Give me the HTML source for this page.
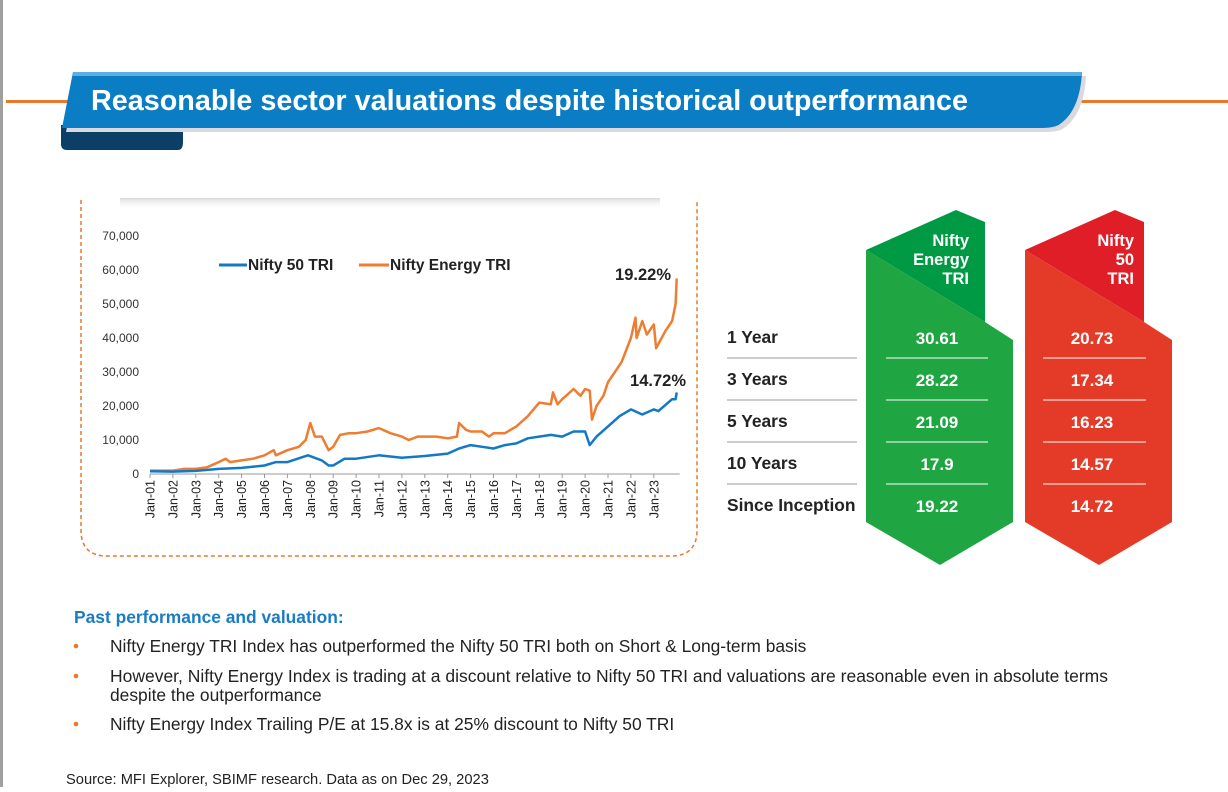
<!DOCTYPE html>
<html><head><meta charset="utf-8"><style>
html,body{margin:0;padding:0;background:#fff;}
body{width:1228px;height:787px;overflow:hidden;font-family:"Liberation Sans",sans-serif;}
svg text{font-family:"Liberation Sans",sans-serif;}
</style></head><body>
<svg id="page" width="1228" height="787" viewBox="0 0 1228 787" xmlns="http://www.w3.org/2000/svg">
<defs>
<linearGradient id="topShadow" x1="0" y1="0" x2="0" y2="1"><stop offset="0" stop-color="#ccc" stop-opacity="0.7"/><stop offset="1" stop-color="#fff" stop-opacity="0"/></linearGradient>
</defs>
<rect x="0" y="0" width="3" height="787" fill="#a0a0a0"/>
<rect x="6" y="100" width="1222" height="3" fill="#e8782b"/>
<g>
<path d="M61,125 L61,144 Q61,150 67,150 L178,150 Q183,150 183,142 L183,125 Z" fill="#0b3f66"/>
<path d="M73,72 L1082,72 Q1080,110 1060,124 Q1055,128 1040,128 L62,128 Z" fill="#d9d9df" transform="translate(4,4)"/>
<path d="M73,72 L1082,72 Q1080,110 1060,124 Q1055,128 1040,128 L62,128 Z" fill="#0a7dc4"/>
<path d="M73,72 L1082,72 L1081,76 L72,76 Z" fill="#5aaee0"/>
<text x="91" y="110" font-size="28.5" font-weight="bold" fill="#fff" textLength="877" lengthAdjust="spacingAndGlyphs">Reasonable sector valuations despite historical outperformance</text>
</g>
<g>
<rect x="120" y="198" width="540" height="12" fill="url(#topShadow)"/>
<path d="M81,200 L81,530 Q81,556 107,556 L671,556 Q697,556 697,530 L697,200" fill="none" stroke="#e8782b" stroke-width="1.5" stroke-dasharray="4,3"/>
</g>
<g id="chart"></g>
<g>
<path d="M866,250 L956,210 L985,222 L985,322 Z" fill="#009a44"/>
<path d="M866,250 L985,322 L1013,340 L1013,522 L940,565 L866,522 Z" fill="#1fa541"/>
<path d="M1025,250 L1115,210 L1144,222 L1144,322 Z" fill="#e01e28"/>
<path d="M1025,250 L1144,322 L1172,340 L1172,522 L1099,565 L1025,522 Z" fill="#e33b28"/>
<g font-size="16.5" font-weight="bold" fill="#fff" text-anchor="end">
<text x="969" y="246"><tspan x="969">Nifty</tspan><tspan x="969" dy="19">Energy</tspan><tspan x="969" dy="19">TRI</tspan></text>
<text x="1134" y="246"><tspan x="1134">Nifty</tspan><tspan x="1134" dy="19">50</tspan><tspan x="1134" dy="19">TRI</tspan></text>
</g>
<g id="rows"></g>
</g>
<text x="74" y="623" font-size="17.4" font-weight="bold" fill="#1a7cc4">Past performance and valuation:</text>
<g font-size="17.4" fill="#222">
<circle cx="76" cy="646" r="2.3" fill="#e8782b"/><text x="110" y="652">Nifty Energy TRI Index has outperformed the Nifty 50 TRI both on Short &amp; Long-term basis</text>
<circle cx="76" cy="676" r="2.3" fill="#e8782b"/><text x="110" y="682" textLength="998" lengthAdjust="spacingAndGlyphs">However, Nifty Energy Index is trading at a discount relative to Nifty 50 TRI and valuations are reasonable even in absolute terms</text>
<text x="110" y="701">despite the outperformance</text>
<circle cx="76" cy="724" r="2.3" fill="#e8782b"/><text x="110" y="730">Nifty Energy Index Trailing P/E at 15.8x is at 25% discount to Nifty 50 TRI</text>
</g>
<text x="66" y="784" font-size="14.7" fill="#222">Source: MFI Explorer, SBIMF research. Data as on Dec 29, 2023</text>
</svg>
<script>
const yTicks=[0,10000,20000,30000,40000,50000,60000,70000];
const xLabels=["Jan-01","Jan-02","Jan-03","Jan-04","Jan-05","Jan-06","Jan-07","Jan-08","Jan-09","Jan-10","Jan-11","Jan-12","Jan-13","Jan-14","Jan-15","Jan-16","Jan-17","Jan-18","Jan-19","Jan-20","Jan-21","Jan-22","Jan-23"];
const energyT=[0,0.5,1,1.5,2,2.5,3,3.3,3.5,4,4.5,5,5.4,5.5,6,6.5,6.8,7,7.2,7.5,7.8,8,8.3,8.7,9,9.5,10,10.5,11,11.3,11.7,12,12.5,13,13.4,13.5,13.8,14,14.5,14.8,15,15.5,16,16.5,17,17.5,17.6,17.8,18,18.5,18.8,19,19.2,19.3,19.5,19.8,20,20.3,20.6,21,21.2,21.25,21.5,21.7,22,22.1,22.5,22.8,22.95,23];
const energyV=[1000,1000,1000,1500,1500,2000,3500,4500,3500,4000,4500,5500,7000,5500,7000,8000,10000,15000,11000,11000,7000,8000,11500,12000,12000,12500,13500,12000,11000,10000,11000,11000,11000,10500,11000,15000,13000,12500,12500,11000,12000,12000,14000,17000,21000,20500,24000,20500,22000,25000,23000,25000,24500,16000,20000,23000,27000,30000,33000,40000,46000,40000,45000,41000,44000,37000,42000,45000,50000,57500];
const niftyT=[0,1,2,3,4,5,5.5,6,6.9,7.5,7.8,8,8.5,9,10,11,12,13,13.5,14,14.5,15,15.5,16,16.5,17,17.5,18,18.5,19,19.2,19.5,20,20.5,21,21.5,22,22.2,22.8,22.95,23];
const niftyV=[800,700,900,1500,1800,2500,3500,3500,5500,4000,2500,2500,4500,4500,5500,4800,5300,6000,7500,8500,8000,7500,8500,9000,10500,11000,11500,11000,12500,12500,8500,11000,14000,17000,19000,17500,19000,18500,22000,22000,24000];
const tableLabels=["1 Year","3 Years","5 Years","10 Years","Since Inception"];
const energyRet=["30.61","28.22","21.09","17.9","19.22"];
const niftyRet=["20.73","17.34","16.23","14.57","14.72"];

const NS="http://www.w3.org/2000/svg";
const X0=150,XPY=22.9,Y0=474,YMAX=236;
const x=t=>X0+t*XPY, y=v=>Y0-(v/70000)*(Y0-YMAX);
function mk(tag,attrs,parent,txt){const e=document.createElementNS(NS,tag);for(const k in attrs)e.setAttribute(k,attrs[k]);if(txt!==undefined)e.textContent=txt;parent.appendChild(e);return e;}
const g=document.getElementById('chart');
yTicks.forEach(v=>{const t=mk('text',{x:139,y:y(v)+4,'font-size':12,fill:'#333','text-anchor':'end'},g,v.toLocaleString('en-US'));

});
mk('line',{x1:x(0),y1:Y0,x2:x(23)+3,y2:Y0,stroke:'#999','stroke-width':1},g);
xLabels.forEach((l,i)=>{mk('line',{x1:x(i),y1:Y0,x2:x(i),y2:Y0+4,stroke:'#999'},g);
const t=mk('text',{transform:`translate(${x(i)+4.5},${Y0+6}) rotate(-90)`,'font-size':12.5,fill:'#222','text-anchor':'end'},g,l);

});
function line(T,V,color,name){const d=T.map((t,i)=>(i?'L':'M')+x(t).toFixed(1)+','+y(V[i]).toFixed(1)).join(' ');
const p=mk('path',{d:d,fill:'none',stroke:color,'stroke-width':2.5,'stroke-linejoin':'round'},g);

}
line(energyT,energyV,'#ee7d31','energy-tri-line');
line(niftyT,niftyV,'#1479c5','nifty50-tri-line');
const lg=mk('g',{},g);


mk('line',{x1:219,y1:265,x2:247,y2:265,stroke:'#1479c5','stroke-width':3},lg);
mk('text',{x:248,y:270,'font-size':15.5,'font-weight':'bold',fill:'#222'},lg,'Nifty 50 TRI');
mk('line',{x1:359,y1:265,x2:389,y2:265,stroke:'#ee7d31','stroke-width':3},lg);
mk('text',{x:390,y:270,'font-size':15.5,'font-weight':'bold',fill:'#222'},lg,'Nifty Energy TRI');
const a1=mk('text',{x:671,y:280,'font-size':16.5,'font-weight':'bold',fill:'#222','text-anchor':'end'},g,energyRet[4]+'%');


const a2=mk('text',{x:686,y:386,'font-size':16.5,'font-weight':'bold',fill:'#222','text-anchor':'end'},g,niftyRet[4]+'%');


const rows=document.getElementById('rows');
tableLabels.forEach((l,i)=>{const cy=338+i*42;
const t=mk('text',{x:727,y:cy+5,'font-size':17.4,'font-weight':'bold',fill:'#222'},rows,l);


const e=mk('text',{x:937,y:cy+6,'font-size':17,'font-weight':'bold',fill:'#fff','text-anchor':'middle'},rows,energyRet[i]);


const n=mk('text',{x:1092,y:cy+6,'font-size':17,'font-weight':'bold',fill:'#fff','text-anchor':'middle'},rows,niftyRet[i]);


if(i<4){mk('line',{x1:727,y1:cy+20,x2:857,y2:cy+20,stroke:'#999'},rows);
mk('line',{x1:886,y1:cy+20,x2:988,y2:cy+20,stroke:'#fff'},rows);
mk('line',{x1:1043,y1:cy+20,x2:1146,y2:cy+20,stroke:'#fff'},rows);}});
</script>
</body></html>
